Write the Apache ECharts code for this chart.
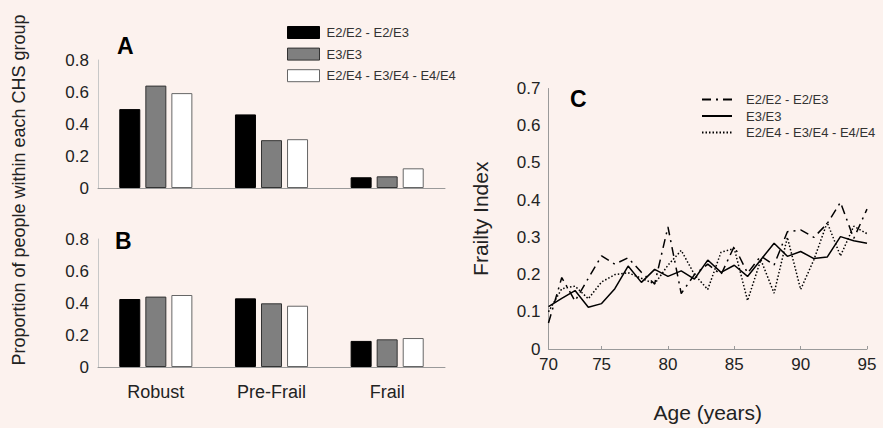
<!DOCTYPE html>
<html>
<head>
<meta charset="utf-8">
<script src="https://cdn.jsdelivr.net/npm/echarts@6/dist/echarts.min.js"></script>
<style>
html,body{margin:0;padding:0;background:#fcf2ee;}
#c{width:883px;height:428px;}
</style>
</head>
<body>
<div id="c"></div>
<script>
// ---- data ----
var categories = ['Robust', 'Pre-Frail', 'Frail'];
var genotypes = ['E2/E2 - E2/E3', 'E3/E3', 'E2/E4 - E3/E4 - E4/E4'];
// Panel A
var barsA_E2 = [0.493, 0.460, 0.067];
var barsA_E3 = [0.640, 0.299, 0.073];
var barsA_E4 = [0.593, 0.305, 0.123];
// Panel B
var barsB_E2 = [0.425, 0.429, 0.163];
var barsB_E3 = [0.440, 0.398, 0.173];
var barsB_E4 = [0.450, 0.383, 0.181];
// Panel C
var ages = [71,72,73,74,75,76,77,78,79,80,81,82,83,84,85,86,87,88,89,90,91,92,93,94,95];
var fiE2 = [0.070,0.192,0.129,0.190,0.250,0.228,0.245,0.206,0.175,0.328,0.149,0.200,0.228,0.200,0.276,0.204,0.250,0.226,0.315,0.320,0.300,0.337,0.394,0.297,0.376];
var fiE3 = [0.114,0.136,0.157,0.112,0.122,0.162,0.223,0.179,0.214,0.195,0.210,0.188,0.239,0.206,0.225,0.195,0.240,0.284,0.249,0.262,0.243,0.247,0.302,0.291,0.284];
var fiE4 = [0.100,0.162,0.169,0.135,0.180,0.200,0.205,0.190,0.175,0.225,0.265,0.200,0.160,0.260,0.270,0.130,0.240,0.150,0.300,0.160,0.240,0.340,0.250,0.330,0.310];
var barTicks = [0, 0.2, 0.4, 0.6, 0.8];
var fiTicks = [0, 0.1, 0.2, 0.3, 0.4, 0.5, 0.6, 0.7];
var ageTickValues = [71, 75, 80, 85, 90, 95];
var ageTickLabels = ['70', '75', '80', '85', '90', '95'];

var FONT = 'Liberation Sans, Arial, sans-serif';
var TXT = '#222';
var AX = '#9a9a9a';

function pairs(xs, ys){ return xs.map(function(x,i){ return [x, ys[i]]; }); }
var lineNames = genotypes.map(function(g){ return 'C: ' + g; });

var barColors = ['#000000', '#7f7f7f', '#ffffff'];
var barBorders = ['#000000', '#333333', '#666666'];

function barSeries(gridIdx, arrs){
  return arrs.map(function(arr, i){
    return {
      type: 'bar', name: genotypes[i], xAxisIndex: gridIdx, yAxisIndex: gridIdx,
      data: arr, barWidth: 21, barGap: '24%',
      itemStyle: {color: barColors[i], borderColor: barBorders[i], borderWidth: 1},
      silent: true
    };
  });
}

function barY(idx){
  return {
    type: 'value', gridIndex: idx, min: 0, max: 0.8, interval: 0.2,
    splitLine: {show: false},
    axisLine: {show: true, lineStyle: {color: '#c8c8c8', width: 1}},
    axisTick: {show: false},
    axisLabel: {fontFamily: FONT, fontSize: 17, color: TXT, margin: 9,
      formatter: function(v){ return String(+v.toFixed(1)); }}
  };
}
function barX(idx, showLabels){
  return {
    type: 'category', gridIndex: idx, data: categories, boundaryGap: true,
    axisLine: {show: true, lineStyle: {color: AX, width: 1}},
    axisTick: {show: false},
    axisLabel: {show: showLabels, fontFamily: FONT, fontSize: 18, color: TXT, margin: 16}
  };
}

var chart = echarts.init(document.getElementById('c'), null, {renderer: 'svg'});
var lineTypes = [[9, 5, 2, 5], 'solid', [1.5, 2]];
var lineData = [fiE2, fiE3, fiE4];
var titleStyle = {fontSize: 23, fontWeight: 'bold', color: '#000', fontFamily: FONT};

var option = {
  backgroundColor: '#fcf2ee',
  animation: false,
  textStyle: {fontFamily: FONT},
  title: [
    {text: 'A', left: 117, top: 34, padding: 0, textStyle: titleStyle},
    {text: 'B', left: 115, top: 229.5, padding: 0, textStyle: titleStyle},
    {text: 'C', left: 570, top: 87, padding: 0, textStyle: titleStyle}
  ],
  legend: [
    {
      orient: 'vertical', left: 282, top: 21, itemWidth: 32, itemHeight: 12, itemGap: 8.6,
      icon: 'rect', selectedMode: false,
      data: genotypes.map(function(g, i){ return {name: g, itemStyle: {color: barColors[i], borderColor: barBorders[i], borderWidth: 1}}; }),
      textStyle: {fontFamily: FONT, fontSize: 13, color: '#333', padding: [0,0,0,2]}
    },
    {
      orient: 'vertical', left: 696, top: 87.5, itemWidth: 30, itemHeight: 14, itemGap: 2.5,
      selectedMode: false,
      data: lineNames.map(function(n){ return {name: n, itemStyle: {opacity: 0}}; }),
      formatter: function(n){ return n.replace(/^C: /, ''); },
      textStyle: {fontFamily: FONT, fontSize: 13, color: '#333', lineHeight: 14, padding: [0,0,0,9]}
    }
  ],
  graphic: [
    {type: 'text', x: 18.5, y: 190, rotation: Math.PI/2,
      style: {text: 'Proportion of people within each CHS group', fontFamily: FONT, fontSize: 18,
        fill: TXT, align: 'center', verticalAlign: 'middle'}}
  ],
  grid: [
    {left: 98, top: 60, width: 347, height: 128},
    {left: 98, top: 239, width: 347, height: 128},
    {left: 548.5, top: 88.5, width: 318.5, height: 266.5}
  ],
  xAxis: [
    barX(0, false),
    barX(1, true),
    {
      type: 'value', gridIndex: 2, min: 71, max: 95,
      name: 'Age (years)', nameLocation: 'middle', nameGap: 53,
      nameTextStyle: {fontFamily: FONT, fontSize: 21, color: TXT},
      splitLine: {show: false},
      axisLine: {show: true, lineStyle: {color: AX, width: 1}},
      axisTick: {show: true, inside: true, length: 3, customValues: ageTickValues, lineStyle: {color: AX}},
      axisLabel: {fontFamily: FONT, fontSize: 17, color: TXT, margin: 7, customValues: ageTickValues,
        formatter: function(v){ var k = ageTickValues.indexOf(v); return k >= 0 ? ageTickLabels[k] : ''; }}
    }
  ],
  yAxis: [
    barY(0),
    barY(1),
    {
      type: 'value', gridIndex: 2, min: 0, max: 0.7, interval: 0.1,
      name: 'Frailty Index', nameLocation: 'middle', nameGap: 58,
      nameTextStyle: {fontFamily: FONT, fontSize: 21, color: TXT},
      splitLine: {show: false},
      axisLine: {show: true, lineStyle: {color: AX, width: 1}},
      axisTick: {show: false},
      axisLabel: {fontFamily: FONT, fontSize: 17, color: TXT, margin: 8,
        formatter: function(v){ return String(+v.toFixed(1)); }}
    }
  ],
  series: [].concat(
    barSeries(0, [barsA_E2, barsA_E3, barsA_E4]),
    barSeries(1, [barsB_E2, barsB_E3, barsB_E4]),
    lineData.map(function(d, i){
      return {
        type: 'line', name: lineNames[i], xAxisIndex: 2, yAxisIndex: 2,
        data: pairs(ages, d), symbol: 'none', silent: true,
        itemStyle: {color: '#000'},
        lineStyle: {color: '#000', width: 1.5, type: lineTypes[i]}
      };
    })
  )
};
chart.setOption(option);
</script>
</body>
</html>
